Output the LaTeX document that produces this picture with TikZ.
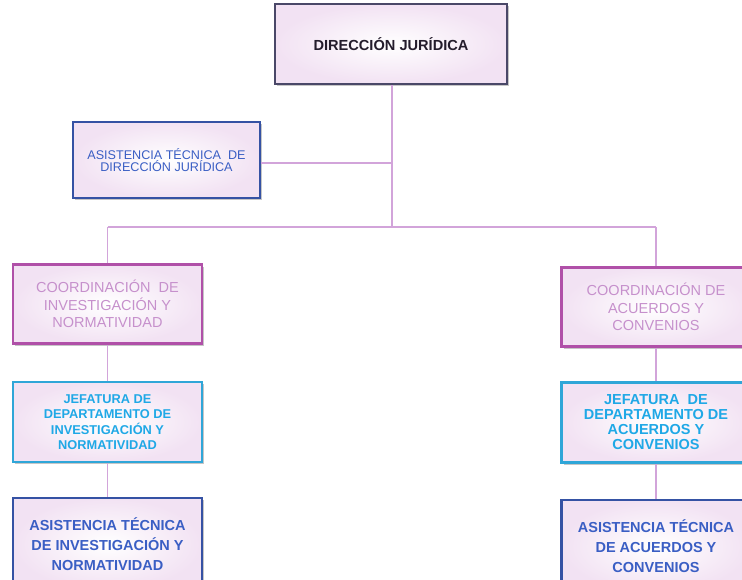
\documentclass[tikz,border=0pt]{standalone}
\usepackage{fontspec}
\setmainfont{Liberation Sans}
\usetikzlibrary{shadows}
\definecolor{linec}{HTML}{D2A4DA}
\definecolor{topb}{HTML}{4A4868}
\definecolor{topt}{HTML}{241C2C}
\definecolor{blueb}{HTML}{3552A4}
\definecolor{bluet}{HTML}{3A5EC4}
\definecolor{magb}{HTML}{B050A8}
\definecolor{magt}{HTML}{C690CC}
\definecolor{cyanb}{HTML}{2FA6D8}
\definecolor{cyant}{HTML}{1FA8E6}
\definecolor{boxfill}{HTML}{F2E2F3}
\tikzset{
  orgbox/.style={draw, line width=2.2pt, rectangle, inner sep=0pt, align=center,
    inner color=white, outer color=boxfill,
    drop shadow={shadow xshift=2pt, shadow yshift=-2pt, opacity=0.45}},
  topbox/.style={orgbox, draw=topb, text=topt, minimum width=232pt, minimum height=80pt,
    font=\fontsize{14.6}{17}\selectfont\bfseries},
  asdjbox/.style={orgbox, draw=blueb, text=bluet, minimum width=187pt, minimum height=76pt,
    font=\fontsize{12.6}{12.5}\selectfont},
  coordbox/.style={orgbox, draw=magb, text=magt, minimum width=189pt, minimum height=79pt,
    font=\fontsize{14.5}{17.5}\selectfont},
  jefbox/.style={orgbox, draw=cyanb, text=cyant, minimum width=189pt, minimum height=80pt},
  asbox/.style={orgbox, draw=blueb, text=bluet, minimum width=189pt, minimum height=92pt,
    font=\fontsize{14.5}{20}\selectfont\bfseries},
  conn/.style={draw=linec, line width=1.3pt}
}
\begin{document}
\begin{tikzpicture}[x=1pt,y=-1pt]
\useasboundingbox (0,0) rectangle (742,579);
\clip (0,0) rectangle (742,579);
\node[topbox] (dj) at (391,44) {DIRECCIÓN JURÍDICA};
\node[asdjbox] (asdj) at (166.5,160) {ASISTENCIA TÉCNICA\ \ DE\\DIRECCIÓN JURÍDICA};
\node[coordbox] (coordl) at (107.5,304) {COORDINACIÓN\ \ DE\\INVESTIGACIÓN Y\\NORMATIVIDAD};
\node[coordbox] (coordr) at (656,307) {COORDINACIÓN DE\\ACUERDOS Y\\CONVENIOS};
\node[jefbox, font=\fontsize{12.8}{15.5}\selectfont\bfseries] (jefl) at (107.5,422) {JEFATURA DE\\DEPARTAMENTO DE\\INVESTIGACIÓN Y\\NORMATIVIDAD};
\node[jefbox, font=\fontsize{14.5}{15}\selectfont\bfseries] (jefr) at (656,422.5) {JEFATURA\ \ DE\\DEPARTAMENTO DE\\ACUERDOS Y\\CONVENIOS};
\node[asbox] (asl) at (107.5,544) {ASISTENCIA TÉCNICA\\DE INVESTIGACIÓN Y\\NORMATIVIDAD};
\node[asbox] (asr) at (656,546) {ASISTENCIA TÉCNICA\\DE ACUERDOS Y\\CONVENIOS};
\coordinate (trunk) at (392,227);
\coordinate (mid) at (392,163);
\coordinate (hl) at (107.5,227);
\coordinate (hr) at (656,227);
\draw[conn] (trunk |- dj.south) -- (trunk);
\draw[conn] (asdj.east |- mid) -- (mid);
\draw[conn] (hl) -- (hr);
\draw[conn] (hl) -- (coordl.north);
\draw[conn] (hr) -- (coordr.north);
\draw[conn] (coordl.south) -- (jefl.north);
\draw[conn] (jefl.south) -- (asl.north);
\draw[conn] (coordr.south) -- (jefr.north);
\draw[conn] (jefr.south) -- (asr.north);
\end{tikzpicture}
\end{document}
